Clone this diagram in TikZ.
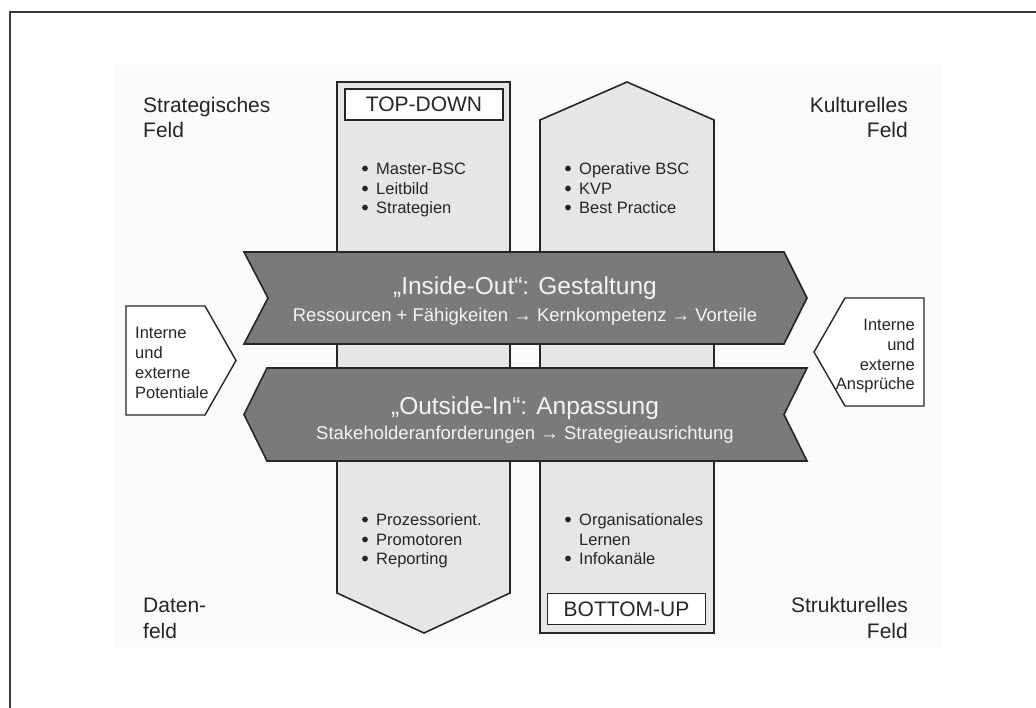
\documentclass[tikz,border=0pt]{standalone}
\usepackage{fontspec}
\setmainfont{Liberation Sans}
\definecolor{ink}{HTML}{262626}
\definecolor{colfill}{HTML}{E6E6E6}
\definecolor{bandfill}{HTML}{7A7A7A}
\definecolor{paper}{HTML}{FAFAFA}
\definecolor{bandtext}{HTML}{F4F4F4}
\begin{document}
\begin{tikzpicture}[x=1pt,y=-1pt,
  outline/.style={draw=ink,line width=1.6pt,line join=miter},
  column/.style={outline,fill=colfill},
  band/.style={outline,fill=bandfill},
  field/.style={font=\fontsize{21}{25}\selectfont,text=ink,inner sep=0pt},
  item/.style={font=\fontsize{16.5}{20}\selectfont,text=ink,inner sep=0pt,anchor=base west},
  side/.style={font=\fontsize{16.5}{20}\selectfont,text=ink,inner sep=0pt},
  tag/.style={draw=ink,line width=1.4pt,fill=white,font=\fontsize{21}{25}\selectfont,text=ink,
              minimum width=158pt,minimum height=31pt,inner sep=0pt},
  bandtitle/.style={font=\fontsize{24.5}{28}\selectfont,text=bandtext,inner sep=0pt,anchor=base},
  bandsub/.style={font=\fontsize{18.5}{22}\selectfont,text=bandtext,inner sep=0pt,anchor=base},
  dot/.style={fill=ink}
]
\useasboundingbox (0,0) rectangle (1036,707);

% page frame
\draw[ink!90,line width=2pt] (9.5,710) -- (9.5,12) -- (1040,12);
% printed area
\fill[paper] (115,65) rectangle (943,647);

% vertical columns
\draw[column] (337,82) -- (510,82) -- (510,593) -- (424,633) -- (337,593) -- cycle;
\draw[column] (540,120) -- (627,82) -- (714,120) -- (714,633) -- (540,633) -- cycle;

\node[tag] (topdown) at (424,104.5) {TOP-DOWN};
\node[tag] (bottomup) at (626.5,609) {BOTTOM-UP};

% list entries in the columns
\foreach \y in {168.5,188.5,207.5} \fill[dot] (365,\y) circle (2.9);
\node[item] (tl1) at (376,174) {Master-BSC};
\node[item] (tl2) at (376,194) {Leitbild};
\node[item] (tl3) at (376,213) {Strategien};

\foreach \y in {168.5,188.5,207.5} \fill[dot] (568,\y) circle (2.9);
\node[item] (tr1) at (579,174) {Operative BSC};
\node[item] (tr2) at (579,194) {KVP};
\node[item] (tr3) at (579,213) {Best Practice};

\foreach \y in {519.5,539.5,558.5} \fill[dot] (365,\y) circle (2.9);
\node[item] (bl1) at (376,525) {Prozessorient.};
\node[item] (bl2) at (376,545) {Promotoren};
\node[item] (bl3) at (376,564) {Reporting};

\foreach \y in {519.5,558.5} \fill[dot] (568,\y) circle (2.9);
\node[item] (br1) at (579,525) {Organisationales};
\node[item] (br2) at (579,545) {Lernen};
\node[item] (br3) at (579,564) {Infokanäle};

% horizontal bands
\draw[band] (244,252) -- (784,252) -- (807,298) -- (784,344) -- (244,344) -- (268,298) -- cycle;
\draw[band] (267,368) -- (807,368) -- (784,414.5) -- (807,461) -- (267,461) -- (244,414.5) -- cycle;

\node[bandtitle] (in1) at (525,294) {„Inside-Out“: Gestaltung};
\node[bandsub] (in2) at (525,321) {Ressourcen + Fähigkeiten → Kernkompetenz → Vorteile};
\node[bandtitle] (out1) at (525,414) {„Outside-In“: Anpassung};
\node[bandsub] (out2) at (525,439) {Stakeholderanforderungen → Strategieausrichtung};

% side pentagons
\draw[outline,fill=white,line width=1.4pt] (126,306) -- (205,306) -- (236,360.5) -- (205,415) -- (126,415) -- cycle;
\node[side,anchor=base west] (lp1) at (135,338) {Interne};
\node[side,anchor=base west] (lp2) at (135,358) {und};
\node[side,anchor=base west] (lp3) at (135,378) {externe};
\node[side,anchor=base west] (lp4) at (135,398) {Potentiale};

\draw[outline,fill=white,line width=1.4pt] (924,298) -- (845,298) -- (814,352) -- (845,406) -- (924,406) -- cycle;
\node[side,anchor=base east] (rp1) at (915,330) {Interne};
\node[side,anchor=base east] (rp2) at (915,350) {und};
\node[side,anchor=base east] (rp3) at (915,370) {externe};
\node[side,anchor=base east] (rp4) at (915,389) {Ansprüche};

% field names in the corners
\node[field,anchor=base west] (f1a) at (143,112) {Strategisches};
\node[field,anchor=base west] (f1b) at (143,137) {Feld};
\node[field,anchor=base east] (f2a) at (908,112) {Kulturelles};
\node[field,anchor=base east] (f2b) at (908,137) {Feld};
\node[field,anchor=base west] (f3a) at (143,612) {Daten-};
\node[field,anchor=base west] (f3b) at (143,638) {feld};
\node[field,anchor=base east] (f4a) at (908,612) {Strukturelles};
\node[field,anchor=base east] (f4b) at (908,638) {Feld};
\end{tikzpicture}
\end{document}
